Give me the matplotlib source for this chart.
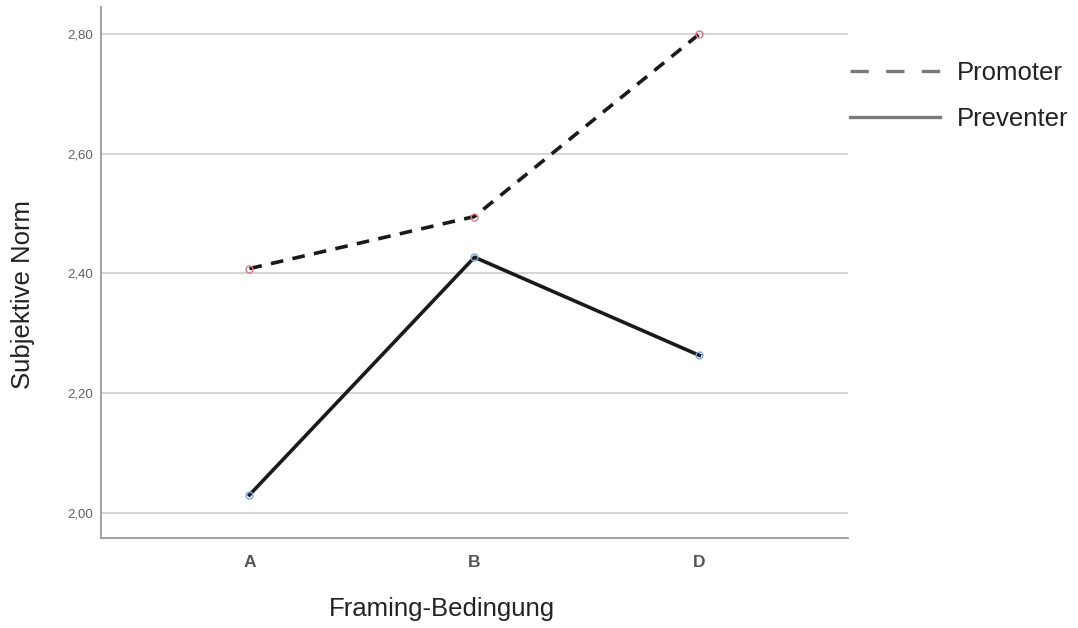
import matplotlib.pyplot as plt
from matplotlib.lines import Line2D
from matplotlib.ticker import FuncFormatter

# Data
conditions = ["A", "B", "D"]
promoter = [2.408, 2.495, 2.80]
preventer = [2.03, 2.427, 2.263]
y_ticks = [2.00, 2.20, 2.40, 2.60, 2.80]

plt.rcParams["font.family"] = ["Liberation Sans", "DejaVu Sans"]

fig = plt.figure(figsize=(10.78, 6.28), dpi=100)
ax = fig.add_axes([0.0937, 0.1433, 0.6929, 0.8456])

x = list(range(len(conditions)))

ax.plot(x, promoter, color="#1a1a1a", linewidth=2.6, linestyle=(0, (3.5, 2.6)),
        marker="o", markersize=5, markerfacecolor="none",
        markeredgecolor="#e07585", markeredgewidth=1.0, zorder=3)
ax.plot(x, preventer, color="#1a1a1a", linewidth=2.6, linestyle="-",
        marker="o", markersize=5, markerfacecolor="none",
        markeredgecolor="#7fa9dc", markeredgewidth=1.0, zorder=3)

ax.set_xlim(-0.66, 2.66)
ax.set_ylim(1.958, 2.845)
ax.set_xticks(x)
ax.set_xticklabels(conditions, fontsize=12.5, color="#555555", fontweight="bold")
ax.set_yticks(y_ticks)
ax.yaxis.set_major_formatter(FuncFormatter(lambda v, p: f"{v:.2f}".replace(".", ",")))
ax.tick_params(axis="y", labelsize=9.5, labelcolor="#606060", length=0, pad=6)
ax.tick_params(axis="x", length=0, pad=12)

ax.grid(axis="y", color="#d6d6d6", linewidth=1.5)
ax.set_axisbelow(True)
for side in ["top", "right"]:
    ax.spines[side].set_visible(False)
for side in ["left", "bottom"]:
    ax.spines[side].set_color("#9a9a9a")
    ax.spines[side].set_linewidth(1.3)

ax.set_xlabel("Framing-Bedingung", fontsize=18.5, color="#222222")
ax.set_ylabel("Subjektive Norm", fontsize=18.5, color="#222222")
ax.xaxis.set_label_coords(0.456, -0.112)
ax.yaxis.set_label_coords(-0.089, 0.458)

handles = [
    Line2D([0], [0], color="#7a7a7a", linewidth=2.4, linestyle=(0, (5.5, 5.2))),
    Line2D([0], [0], color="#7a7a7a", linewidth=2.4, linestyle="-"),
]
ax.legend(handles, ["Promoter", "Preventer"], loc="center left",
          bbox_to_anchor=(1.0027, 0.832), frameon=False, fontsize=18.5,
          handlelength=3.5, handletextpad=0.65, labelspacing=0.85,
          borderpad=0, borderaxespad=0, labelcolor="#222222")

fig.savefig("out.png", dpi=100)
